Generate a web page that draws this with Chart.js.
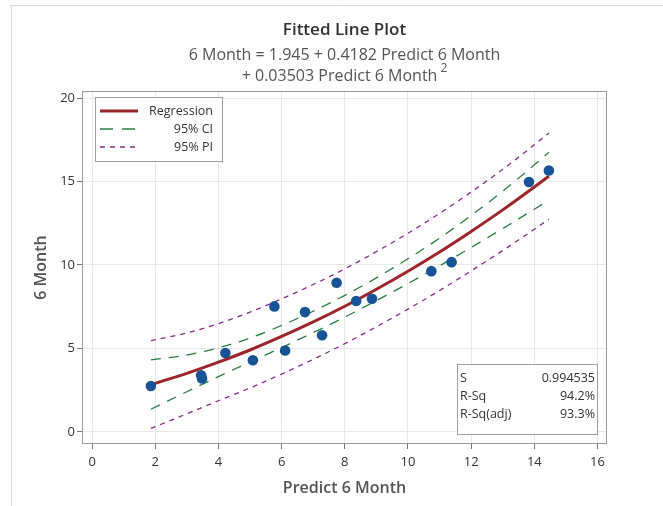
<!DOCTYPE html>
<html>
<head>
<meta charset="utf-8">
<script src="https://cdn.jsdelivr.net/npm/chart.js@4.4.1/dist/chart.umd.min.js"></script>
<style>
  html, body { margin: 0; padding: 0; background: #fff; }
</style>
</head>
<body>
<canvas id="fit-chart" width="663" height="506"></canvas>
<script>
var predict6Month = [1.86, 3.45, 3.48, 4.22, 5.09, 5.77, 6.11, 6.74, 7.28, 7.74, 8.36, 8.86, 10.74, 11.38, 13.83, 14.46];
var actual6Month  = [2.75, 3.40, 3.20, 4.73, 4.30, 7.52, 4.88, 7.18, 5.79, 8.94, 7.84, 7.98, 9.63, 10.17, 14.97, 15.66];

// fitted curve and bands, sampled along x
var curveX   = [1.86, 3, 4, 5, 6, 7, 8, 9, 10, 11, 12, 13, 14, 14.46];
var fitY     = [2.84, 3.51, 4.18, 4.91, 5.72, 6.59, 7.53, 8.55, 9.63, 10.78, 12.01, 13.30, 14.67, 15.32];
var ciUpper  = [4.32, 4.61, 5.04, 5.63, 6.38, 7.23, 8.18, 9.23, 10.37, 11.61, 12.97, 14.42, 16.00, 16.75];
var ciLower  = [1.36, 2.41, 3.32, 4.19, 5.06, 5.95, 6.88, 7.87, 8.89, 9.95, 11.05, 12.18, 13.34, 13.89];
var piUpper  = [5.47, 5.93, 6.49, 7.18, 7.97, 8.83, 9.77, 10.80, 11.90, 13.09, 14.37, 15.73, 17.20, 17.90];
var piLower  = [0.21, 1.09, 1.87, 2.64, 3.47, 4.35, 5.29, 6.30, 7.36, 8.47, 9.65, 10.87, 12.14, 12.74];

var xTicks = [0, 2, 4, 6, 8, 10, 12, 14, 16];
var yTicks = [0, 5, 10, 15, 20];

var statLabels = ['S', 'R-Sq', 'R-Sq(adj)'];
var statValues = ['0.994535', '94.2%', '93.3%'];

var titleText = 'Fitted Line Plot';
var eqLine1 = '6 Month = 1.945 + 0.4182 Predict 6 Month';
var eqLine2 = '+ 0.03503 Predict 6 Month';

var FONT = '"Open Sans", "Noto Sans", sans-serif';

function pairs(xs, ys) {
    return xs.map(function(x, i) { return {x: x, y: ys[i]}; });
}

var regColor = 'rgb(158, 38, 40)';
var ciColor = 'rgb(40, 128, 62)';
var piColor = 'rgb(138, 42, 140)';
var pointColor = 'rgb(22, 84, 150)';

var decorPlugin = {
    id: 'decor',
    beforeDraw: function(chart) {
        var ctx = chart.ctx;
        ctx.save();
        ctx.strokeStyle = '#dcdcdc';
        ctx.lineWidth = 1;
        ctx.beginPath();
        ctx.moveTo(10, 5.5); ctx.lineTo(663, 5.5);
        ctx.moveTo(11.5, 5); ctx.lineTo(11.5, 506);
        ctx.stroke();

        var cx = (chart.chartArea.left + chart.chartArea.right) / 2;
        ctx.textAlign = 'center';
        ctx.textBaseline = 'middle';
        ctx.fillStyle = '#333';
        ctx.font = '600 17px ' + FONT;
        ctx.fillText(titleText, cx, 30);

        ctx.fillStyle = '#555';
        ctx.font = '16px ' + FONT;
        ctx.fillText(eqLine1, cx, 55);

        var w1 = ctx.measureText(eqLine2).width;
        ctx.font = '12px ' + FONT;
        var w2 = ctx.measureText('2').width;
        var start = cx - (w1 + 3 + w2) / 2;
        ctx.textAlign = 'left';
        ctx.font = '16px ' + FONT;
        ctx.fillText(eqLine2, start, 76);
        ctx.font = '12px ' + FONT;
        ctx.fillText('2', start + w1 + 3, 69);
        ctx.restore();
    },
    afterDatasetsDraw: function(chart) {
        var ctx = chart.ctx;
        var a = chart.chartArea;
        ctx.save();
        ctx.strokeStyle = '#9a9a9a';
        ctx.lineWidth = 1;
        ctx.strokeRect(a.left + 0.5, a.top + 0.5, a.right - a.left - 1, a.bottom - a.top - 1);

        // legend
        ctx.fillStyle = '#fff';
        ctx.fillRect(95.5, 97.5, 127, 64);
        ctx.strokeStyle = '#a0a0a0';
        ctx.strokeRect(95.5, 97.5, 127, 64);
        ctx.font = '12.5px ' + FONT;
        ctx.textAlign = 'right';
        ctx.textBaseline = 'middle';
        var rows = chart.data.datasets.filter(function(d) { return d.legendDash; });
        rows.forEach(function(d, i) {
            var y = 111 + i * 18;
            ctx.strokeStyle = d.borderColor;
            ctx.lineWidth = d.borderWidth;
            ctx.setLineDash(d.legendDash);
            ctx.beginPath();
            ctx.moveTo(100, y); ctx.lineTo(138, y);
            ctx.stroke();
            ctx.setLineDash([]);
            ctx.fillStyle = '#333';
            ctx.fillText(d.label, 213, y);
        });

        // summary box
        ctx.fillStyle = '#fff';
        ctx.fillRect(457.5, 364.5, 140, 70);
        ctx.strokeStyle = '#a0a0a0';
        ctx.lineWidth = 1;
        ctx.strokeRect(457.5, 364.5, 140, 70);
        ctx.fillStyle = '#333';
        statLabels.forEach(function(lbl, i) {
            var y = 378 + i * 18;
            ctx.textAlign = 'left';
            ctx.fillText(lbl, 460, y);
            ctx.textAlign = 'right';
            ctx.fillText(statValues[i], 595, y);
        });
        ctx.restore();
    }
};

new Chart(document.getElementById('fit-chart'), {
    type: 'scatter',
    data: {
        datasets: [
            {
                label: 'Data',
                data: pairs(predict6Month, actual6Month),
                backgroundColor: pointColor,
                borderColor: pointColor,
                pointRadius: 5.3,
                borderWidth: 0,
                order: 0
            },
            {
                label: 'Regression',
                data: pairs(curveX, fitY),
                showLine: true,
                borderColor: regColor,
                borderWidth: 3,
                pointRadius: 0,
                cubicInterpolationMode: 'monotone',
                legendDash: [],
                order: 1
            },
            {
                label: '95% CI',
                data: pairs(curveX, ciUpper),
                showLine: true,
                borderColor: ciColor,
                borderWidth: 1.3,
                borderDash: [10, 8],
                pointRadius: 0,
                cubicInterpolationMode: 'monotone',
                legendDash: [13, 9],
                order: 2
            },
            {
                label: '95% CI lower',
                data: pairs(curveX, ciLower),
                showLine: true,
                borderColor: ciColor,
                borderWidth: 1.3,
                borderDash: [10, 8],
                pointRadius: 0,
                cubicInterpolationMode: 'monotone',
                order: 2
            },
            {
                label: '95% PI',
                data: pairs(curveX, piUpper),
                showLine: true,
                borderColor: piColor,
                borderWidth: 1.3,
                borderDash: [5, 5],
                pointRadius: 0,
                cubicInterpolationMode: 'monotone',
                legendDash: [5, 5],
                order: 3
            },
            {
                label: '95% PI lower',
                data: pairs(curveX, piLower),
                showLine: true,
                borderColor: piColor,
                borderWidth: 1.3,
                borderDash: [5, 5],
                pointRadius: 0,
                cubicInterpolationMode: 'monotone',
                order: 3
            }
        ]
    },
    options: {
        responsive: false,
        animation: false,
        layout: {padding: {left: 12, right: 56, top: 91, bottom: 0}},
        plugins: {
            legend: {display: false},
            tooltip: {enabled: false}
        },
        scales: {
            x: {
                type: 'linear',
                min: -0.32,
                max: 16.3,
                afterBuildTicks: function(scale) {
                    scale.ticks = xTicks.map(function(v) { return {value: v}; });
                },
                afterFit: function(scale) { scale.height = 62; },
                grid: {color: '#e8e8e8', tickColor: '#777', tickLength: 5},
                border: {display: false},
                ticks: {color: '#333', font: {family: FONT, size: 13}, padding: 5},
                title: {
                    display: true,
                    text: 'Predict 6 Month',
                    color: '#555',
                    font: {family: FONT, size: 16, weight: '600'},
                    padding: {bottom: 8, top: 0}
                }
            },
            y: {
                type: 'linear',
                min: -0.72,
                max: 20.42,
                afterBuildTicks: function(scale) {
                    scale.ticks = yTicks.map(function(v) { return {value: v}; });
                },
                afterFit: function(scale) { scale.width = 70; },
                grid: {color: '#e8e8e8', tickColor: '#777', tickLength: 5},
                border: {display: false},
                ticks: {color: '#333', font: {family: FONT, size: 13}, padding: 2},
                title: {
                    display: true,
                    text: '6 Month',
                    color: '#555',
                    font: {family: FONT, size: 16, weight: '600'},
                    padding: {top: 20, bottom: 0}
                }
            }
        }
    },
    plugins: [decorPlugin]
});
</script>
</body>
</html>
